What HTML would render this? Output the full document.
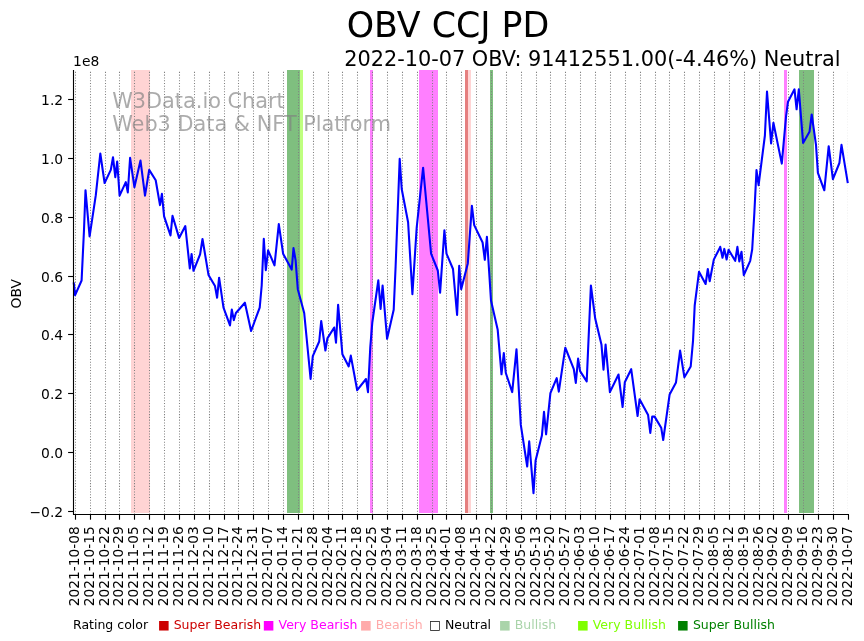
<!DOCTYPE html>
<html lang="en">
<head>
<meta charset="utf-8">
<title>OBV CCJ PD</title>
<style>
html,body{margin:0;padding:0;background:#fff;}
body{width:864px;height:641px;overflow:hidden;}
svg{display:block;}
text{font-family:"DejaVu Sans", "Liberation Sans", sans-serif;}
</style>
</head>
<body>
<svg width="864" height="641" viewBox="0 0 864 641">
<rect x="0" y="0" width="864" height="641" fill="#ffffff"/>
<g id="bands" fill-opacity="0.5">
<rect x="131.00" y="70.00" width="19.00" height="443.00" fill="#ffaaaa"/>
<rect x="287.00" y="70.00" width="13.00" height="443.00" fill="#008000"/>
<rect x="300.00" y="70.00" width="3.00" height="443.00" fill="#7fff00"/>
<rect x="370.00" y="70.00" width="3.00" height="443.00" fill="#ff00ff"/>
<rect x="419.00" y="70.00" width="19.00" height="443.00" fill="#ff00ff"/>
<rect x="465.00" y="70.00" width="3.00" height="443.00" fill="#cc0000"/>
<rect x="468.00" y="70.00" width="3.00" height="443.00" fill="#ffaaaa"/>
<rect x="490.00" y="70.00" width="3.00" height="443.00" fill="#008000"/>
<rect x="784.00" y="70.00" width="3.00" height="443.00" fill="#ff00ff"/>
<rect x="799.00" y="70.00" width="15.00" height="443.00" fill="#008000"/>
</g>
<g id="grid" stroke="#808080" stroke-width="1.04" stroke-dasharray="1.04 1.72" fill="none">
<line x1="75.50" y1="514.50" x2="75.50" y2="70.60"/>
<line x1="90.50" y1="514.50" x2="90.50" y2="70.60"/>
<line x1="105.50" y1="514.50" x2="105.50" y2="70.60"/>
<line x1="119.50" y1="514.50" x2="119.50" y2="70.60"/>
<line x1="134.50" y1="514.50" x2="134.50" y2="70.60"/>
<line x1="149.50" y1="514.50" x2="149.50" y2="70.60"/>
<line x1="164.50" y1="514.50" x2="164.50" y2="70.60"/>
<line x1="179.50" y1="514.50" x2="179.50" y2="70.60"/>
<line x1="194.50" y1="514.50" x2="194.50" y2="70.60"/>
<line x1="209.50" y1="514.50" x2="209.50" y2="70.60"/>
<line x1="224.50" y1="514.50" x2="224.50" y2="70.60"/>
<line x1="238.50" y1="514.50" x2="238.50" y2="70.60"/>
<line x1="253.50" y1="514.50" x2="253.50" y2="70.60"/>
<line x1="268.50" y1="514.50" x2="268.50" y2="70.60"/>
<line x1="283.50" y1="514.50" x2="283.50" y2="70.60"/>
<line x1="298.50" y1="514.50" x2="298.50" y2="70.60"/>
<line x1="313.50" y1="514.50" x2="313.50" y2="70.60"/>
<line x1="328.50" y1="514.50" x2="328.50" y2="70.60"/>
<line x1="342.50" y1="514.50" x2="342.50" y2="70.60"/>
<line x1="357.50" y1="514.50" x2="357.50" y2="70.60"/>
<line x1="372.50" y1="514.50" x2="372.50" y2="70.60"/>
<line x1="387.50" y1="514.50" x2="387.50" y2="70.60"/>
<line x1="402.50" y1="514.50" x2="402.50" y2="70.60"/>
<line x1="417.50" y1="514.50" x2="417.50" y2="70.60"/>
<line x1="432.50" y1="514.50" x2="432.50" y2="70.60"/>
<line x1="446.50" y1="514.50" x2="446.50" y2="70.60"/>
<line x1="461.50" y1="514.50" x2="461.50" y2="70.60"/>
<line x1="476.50" y1="514.50" x2="476.50" y2="70.60"/>
<line x1="491.50" y1="514.50" x2="491.50" y2="70.60"/>
<line x1="506.50" y1="514.50" x2="506.50" y2="70.60"/>
<line x1="521.50" y1="514.50" x2="521.50" y2="70.60"/>
<line x1="536.50" y1="514.50" x2="536.50" y2="70.60"/>
<line x1="550.50" y1="514.50" x2="550.50" y2="70.60"/>
<line x1="565.50" y1="514.50" x2="565.50" y2="70.60"/>
<line x1="580.50" y1="514.50" x2="580.50" y2="70.60"/>
<line x1="595.50" y1="514.50" x2="595.50" y2="70.60"/>
<line x1="610.50" y1="514.50" x2="610.50" y2="70.60"/>
<line x1="625.50" y1="514.50" x2="625.50" y2="70.60"/>
<line x1="640.50" y1="514.50" x2="640.50" y2="70.60"/>
<line x1="655.50" y1="514.50" x2="655.50" y2="70.60"/>
<line x1="669.50" y1="514.50" x2="669.50" y2="70.60"/>
<line x1="684.50" y1="514.50" x2="684.50" y2="70.60"/>
<line x1="699.50" y1="514.50" x2="699.50" y2="70.60"/>
<line x1="714.50" y1="514.50" x2="714.50" y2="70.60"/>
<line x1="729.50" y1="514.50" x2="729.50" y2="70.60"/>
<line x1="744.50" y1="514.50" x2="744.50" y2="70.60"/>
<line x1="759.50" y1="514.50" x2="759.50" y2="70.60"/>
<line x1="773.50" y1="514.50" x2="773.50" y2="70.60"/>
<line x1="788.50" y1="514.50" x2="788.50" y2="70.60"/>
<line x1="803.50" y1="514.50" x2="803.50" y2="70.60"/>
<line x1="818.50" y1="514.50" x2="818.50" y2="70.60"/>
<line x1="833.50" y1="514.50" x2="833.50" y2="70.60"/>
<line x1="847.5" y1="514.5" x2="847.5" y2="70.6" stroke-opacity="0.1"/>
</g>
<g id="watermark" fill="#808080" fill-opacity="0.66" font-size="20.83px">
<text x="112.2" y="108">W3Data.io Chart</text>
<text x="112.2" y="131">Web3 Data &amp; NFT Platform</text>
</g>
<polyline id="obv" points="73.7,282.4 75.1,295.1 81.6,280.5 84.0,230.0 85.5,190.2 89.6,236.4 95.8,195.2 100.3,153.5 104.6,183.0 110.8,169.9 113.0,157.2 115.3,177.1 117.2,161.5 119.6,195.6 125.8,182.1 127.8,192.4 130.1,157.8 134.4,187.2 140.5,160.6 145.0,195.6 149.2,169.9 155.7,180.2 160.0,205.1 161.9,193.9 164.1,216.4 170.5,235.4 172.5,215.8 179.1,237.9 185.3,226.1 189.8,268.4 191.6,254.0 193.5,270.8 200.1,254.3 202.5,239.0 208.5,274.9 215.0,286.1 217.1,297.7 219.1,277.7 223.5,307.7 230.0,325.4 231.8,309.5 233.8,320.1 235.9,313.0 244.9,302.7 251.1,331.0 259.7,307.6 261.7,285.5 263.8,238.7 265.8,270.2 268.1,250.3 274.5,265.3 278.8,224.1 283.1,253.7 291.7,269.6 293.5,248.1 295.6,260.2 297.8,289.2 304.2,313.0 310.6,379.0 312.8,356.1 319.2,341.5 321.2,321.0 325.4,350.5 327.4,338.4 334.2,327.5 336.0,342.7 338.1,304.7 342.4,354.3 348.7,366.4 350.8,355.6 357.2,390.2 366.0,379.0 368.0,392.1 370.3,346.8 372.3,322.5 378.3,280.3 380.6,308.9 382.6,285.5 387.1,338.8 393.7,309.8 395.6,266.8 399.7,158.7 401.7,189.0 408.1,222.3 412.4,294.3 416.7,227.5 423.1,167.7 431.1,253.7 437.8,270.5 440.1,292.6 444.4,230.3 446.5,253.7 453.0,269.0 457.1,314.9 459.2,265.8 461.2,289.2 467.8,263.4 471.9,205.9 474.2,225.1 482.6,242.5 484.8,259.8 486.9,236.8 491.0,300.5 497.7,329.8 501.5,374.3 503.8,353.0 505.8,373.0 512.2,392.1 516.5,349.2 520.8,424.9 527.2,466.5 529.2,441.4 533.5,493.2 535.6,460.5 541.9,435.6 544.0,411.8 546.1,434.3 550.4,393.1 556.7,378.2 558.8,391.7 565.3,347.7 573.8,369.2 575.8,382.9 578.1,358.6 580.1,371.1 586.7,381.4 590.9,285.5 595.2,318.6 601.5,344.8 603.5,369.6 605.6,344.5 609.9,392.1 618.5,374.5 622.6,407.0 624.8,382.3 631.2,369.2 637.6,416.0 639.6,399.2 648.1,415.1 650.3,432.9 652.2,416.6 654.6,416.6 661.2,427.7 663.2,440.0 669.6,394.6 676.0,382.4 680.1,350.6 684.4,377.3 690.7,366.5 693.0,341.2 694.7,305.5 699.0,271.8 705.6,284.0 707.8,269.0 709.7,281.2 713.8,259.6 720.0,247.5 720.2,246.8 722.5,257.7 724.3,248.9 726.6,259.5 728.6,249.8 735.2,260.8 737.4,246.8 739.3,261.4 741.5,251.7 743.8,275.1 750.2,260.8 752.2,249.2 754.3,213.7 756.5,170.1 758.6,185.1 764.9,135.5 767.0,91.5 771.1,143.5 773.4,122.8 781.8,163.6 786.1,115.8 788.0,101.8 794.5,89.3 796.6,109.3 798.8,89.3 803.1,143.0 809.5,131.8 811.7,114.5 816.0,144.9 817.9,172.9 824.3,190.3 828.7,146.2 832.9,179.1 839.4,163.0 841.5,144.9 847.8,183.2" fill="none" stroke="#0000ff" stroke-width="2.08" stroke-linejoin="round" stroke-linecap="butt"/>
<g id="spines" stroke="#000" stroke-width="1.11" fill="none" stroke-linecap="butt">
<line x1="73.50" y1="70.00" x2="73.50" y2="515.00"/>
<line x1="73.00" y1="514.50" x2="849.00" y2="514.50"/>
</g>
<g id="ticks" stroke="#000" stroke-width="1.11" fill="none">
<line x1="75.50" y1="514.50" x2="75.50" y2="519.70"/>
<line x1="90.50" y1="514.50" x2="90.50" y2="519.70"/>
<line x1="105.50" y1="514.50" x2="105.50" y2="519.70"/>
<line x1="119.50" y1="514.50" x2="119.50" y2="519.70"/>
<line x1="134.50" y1="514.50" x2="134.50" y2="519.70"/>
<line x1="149.50" y1="514.50" x2="149.50" y2="519.70"/>
<line x1="164.50" y1="514.50" x2="164.50" y2="519.70"/>
<line x1="179.50" y1="514.50" x2="179.50" y2="519.70"/>
<line x1="194.50" y1="514.50" x2="194.50" y2="519.70"/>
<line x1="209.50" y1="514.50" x2="209.50" y2="519.70"/>
<line x1="224.50" y1="514.50" x2="224.50" y2="519.70"/>
<line x1="238.50" y1="514.50" x2="238.50" y2="519.70"/>
<line x1="253.50" y1="514.50" x2="253.50" y2="519.70"/>
<line x1="268.50" y1="514.50" x2="268.50" y2="519.70"/>
<line x1="283.50" y1="514.50" x2="283.50" y2="519.70"/>
<line x1="298.50" y1="514.50" x2="298.50" y2="519.70"/>
<line x1="313.50" y1="514.50" x2="313.50" y2="519.70"/>
<line x1="328.50" y1="514.50" x2="328.50" y2="519.70"/>
<line x1="342.50" y1="514.50" x2="342.50" y2="519.70"/>
<line x1="357.50" y1="514.50" x2="357.50" y2="519.70"/>
<line x1="372.50" y1="514.50" x2="372.50" y2="519.70"/>
<line x1="387.50" y1="514.50" x2="387.50" y2="519.70"/>
<line x1="402.50" y1="514.50" x2="402.50" y2="519.70"/>
<line x1="417.50" y1="514.50" x2="417.50" y2="519.70"/>
<line x1="432.50" y1="514.50" x2="432.50" y2="519.70"/>
<line x1="446.50" y1="514.50" x2="446.50" y2="519.70"/>
<line x1="461.50" y1="514.50" x2="461.50" y2="519.70"/>
<line x1="476.50" y1="514.50" x2="476.50" y2="519.70"/>
<line x1="491.50" y1="514.50" x2="491.50" y2="519.70"/>
<line x1="506.50" y1="514.50" x2="506.50" y2="519.70"/>
<line x1="521.50" y1="514.50" x2="521.50" y2="519.70"/>
<line x1="536.50" y1="514.50" x2="536.50" y2="519.70"/>
<line x1="550.50" y1="514.50" x2="550.50" y2="519.70"/>
<line x1="565.50" y1="514.50" x2="565.50" y2="519.70"/>
<line x1="580.50" y1="514.50" x2="580.50" y2="519.70"/>
<line x1="595.50" y1="514.50" x2="595.50" y2="519.70"/>
<line x1="610.50" y1="514.50" x2="610.50" y2="519.70"/>
<line x1="625.50" y1="514.50" x2="625.50" y2="519.70"/>
<line x1="640.50" y1="514.50" x2="640.50" y2="519.70"/>
<line x1="655.50" y1="514.50" x2="655.50" y2="519.70"/>
<line x1="669.50" y1="514.50" x2="669.50" y2="519.70"/>
<line x1="684.50" y1="514.50" x2="684.50" y2="519.70"/>
<line x1="699.50" y1="514.50" x2="699.50" y2="519.70"/>
<line x1="714.50" y1="514.50" x2="714.50" y2="519.70"/>
<line x1="729.50" y1="514.50" x2="729.50" y2="519.70"/>
<line x1="744.50" y1="514.50" x2="744.50" y2="519.70"/>
<line x1="759.50" y1="514.50" x2="759.50" y2="519.70"/>
<line x1="773.50" y1="514.50" x2="773.50" y2="519.70"/>
<line x1="788.50" y1="514.50" x2="788.50" y2="519.70"/>
<line x1="803.50" y1="514.50" x2="803.50" y2="519.70"/>
<line x1="818.50" y1="514.50" x2="818.50" y2="519.70"/>
<line x1="833.50" y1="514.50" x2="833.50" y2="519.70"/>
<line x1="848.50" y1="514.50" x2="848.50" y2="519.70"/>
<line x1="68.10" y1="511.50" x2="73.50" y2="511.50"/>
<line x1="68.10" y1="452.50" x2="73.50" y2="452.50"/>
<line x1="68.10" y1="393.50" x2="73.50" y2="393.50"/>
<line x1="68.10" y1="334.50" x2="73.50" y2="334.50"/>
<line x1="68.10" y1="276.50" x2="73.50" y2="276.50"/>
<line x1="68.10" y1="217.50" x2="73.50" y2="217.50"/>
<line x1="68.10" y1="158.50" x2="73.50" y2="158.50"/>
<line x1="68.10" y1="99.50" x2="73.50" y2="99.50"/>
</g>
<g id="ylabels" font-size="13.89px" fill="#000" text-anchor="end">
<text x="63.2" y="517.00">−0.2</text>
<text x="63.2" y="458.00">0.0</text>
<text x="63.2" y="399.00">0.2</text>
<text x="63.2" y="340.00">0.4</text>
<text x="63.2" y="282.00">0.6</text>
<text x="63.2" y="223.00">0.8</text>
<text x="63.2" y="164.00">1.0</text>
<text x="63.2" y="105.00">1.2</text>
</g>
<g id="xlabels" font-size="13.8px" fill="#000" text-anchor="end">
<text transform="translate(79.25,526.1) rotate(-90)">2021-10-08</text>
<text transform="translate(94.25,526.1) rotate(-90)">2021-10-15</text>
<text transform="translate(109.25,526.1) rotate(-90)">2021-10-22</text>
<text transform="translate(123.25,526.1) rotate(-90)">2021-10-29</text>
<text transform="translate(138.25,526.1) rotate(-90)">2021-11-05</text>
<text transform="translate(153.25,526.1) rotate(-90)">2021-11-12</text>
<text transform="translate(168.25,526.1) rotate(-90)">2021-11-19</text>
<text transform="translate(183.25,526.1) rotate(-90)">2021-11-26</text>
<text transform="translate(198.25,526.1) rotate(-90)">2021-12-03</text>
<text transform="translate(213.25,526.1) rotate(-90)">2021-12-10</text>
<text transform="translate(228.25,526.1) rotate(-90)">2021-12-17</text>
<text transform="translate(242.25,526.1) rotate(-90)">2021-12-24</text>
<text transform="translate(257.25,526.1) rotate(-90)">2021-12-31</text>
<text transform="translate(272.25,526.1) rotate(-90)">2022-01-07</text>
<text transform="translate(287.25,526.1) rotate(-90)">2022-01-14</text>
<text transform="translate(302.25,526.1) rotate(-90)">2022-01-21</text>
<text transform="translate(317.25,526.1) rotate(-90)">2022-01-28</text>
<text transform="translate(332.25,526.1) rotate(-90)">2022-02-04</text>
<text transform="translate(346.25,526.1) rotate(-90)">2022-02-11</text>
<text transform="translate(361.25,526.1) rotate(-90)">2022-02-18</text>
<text transform="translate(376.25,526.1) rotate(-90)">2022-02-25</text>
<text transform="translate(391.25,526.1) rotate(-90)">2022-03-04</text>
<text transform="translate(406.25,526.1) rotate(-90)">2022-03-11</text>
<text transform="translate(421.25,526.1) rotate(-90)">2022-03-18</text>
<text transform="translate(436.25,526.1) rotate(-90)">2022-03-25</text>
<text transform="translate(450.25,526.1) rotate(-90)">2022-04-01</text>
<text transform="translate(465.25,526.1) rotate(-90)">2022-04-08</text>
<text transform="translate(480.25,526.1) rotate(-90)">2022-04-15</text>
<text transform="translate(495.25,526.1) rotate(-90)">2022-04-22</text>
<text transform="translate(510.25,526.1) rotate(-90)">2022-04-29</text>
<text transform="translate(525.25,526.1) rotate(-90)">2022-05-06</text>
<text transform="translate(540.25,526.1) rotate(-90)">2022-05-13</text>
<text transform="translate(554.25,526.1) rotate(-90)">2022-05-20</text>
<text transform="translate(569.25,526.1) rotate(-90)">2022-05-27</text>
<text transform="translate(584.25,526.1) rotate(-90)">2022-06-03</text>
<text transform="translate(599.25,526.1) rotate(-90)">2022-06-10</text>
<text transform="translate(614.25,526.1) rotate(-90)">2022-06-17</text>
<text transform="translate(629.25,526.1) rotate(-90)">2022-06-24</text>
<text transform="translate(644.25,526.1) rotate(-90)">2022-07-01</text>
<text transform="translate(659.25,526.1) rotate(-90)">2022-07-08</text>
<text transform="translate(673.25,526.1) rotate(-90)">2022-07-15</text>
<text transform="translate(688.25,526.1) rotate(-90)">2022-07-22</text>
<text transform="translate(703.25,526.1) rotate(-90)">2022-07-29</text>
<text transform="translate(718.25,526.1) rotate(-90)">2022-08-05</text>
<text transform="translate(733.25,526.1) rotate(-90)">2022-08-12</text>
<text transform="translate(748.25,526.1) rotate(-90)">2022-08-19</text>
<text transform="translate(763.25,526.1) rotate(-90)">2022-08-26</text>
<text transform="translate(777.25,526.1) rotate(-90)">2022-09-02</text>
<text transform="translate(792.25,526.1) rotate(-90)">2022-09-09</text>
<text transform="translate(807.25,526.1) rotate(-90)">2022-09-16</text>
<text transform="translate(822.25,526.1) rotate(-90)">2022-09-23</text>
<text transform="translate(837.25,526.1) rotate(-90)">2022-09-30</text>
<text transform="translate(852.25,526.1) rotate(-90)">2022-10-07</text>
</g>
<text x="73.1" y="66" font-size="13.89px" fill="#000">1e8</text>
<text transform="translate(20.5,293.7) rotate(-90)" text-anchor="middle" font-size="13.89px" fill="#000">OBV</text>
<text x="448" y="37" text-anchor="middle" font-size="34.8px" fill="#000">OBV CCJ PD</text>
<text x="840.6" y="66" text-anchor="end" font-size="20.83px" fill="#000">2022-10-07 OBV: 91412551.00(-4.46%) Neutral</text>
<g id="legend" font-size="12.5px">
<text x="73.0" y="629" fill="#000">Rating color</text>
<text x="157.9" y="629" fill="#cc0000">■ Super Bearish</text>
<text x="262.8" y="629" fill="#ff00ff">■ Very Bearish</text>
<text x="359.9" y="629" fill="#ffaaaa">■ Bearish</text>
<text x="429.1" y="629" fill="#000">□ Neutral</text>
<text x="499.0" y="629" fill="#aad4aa">■ Bullish</text>
<text x="577.0" y="629" fill="#7fff00">■ Very Bullish</text>
<text x="677.1" y="629" fill="#008000">■ Super Bullish</text>
</g>
</svg>
</body>
</html>
